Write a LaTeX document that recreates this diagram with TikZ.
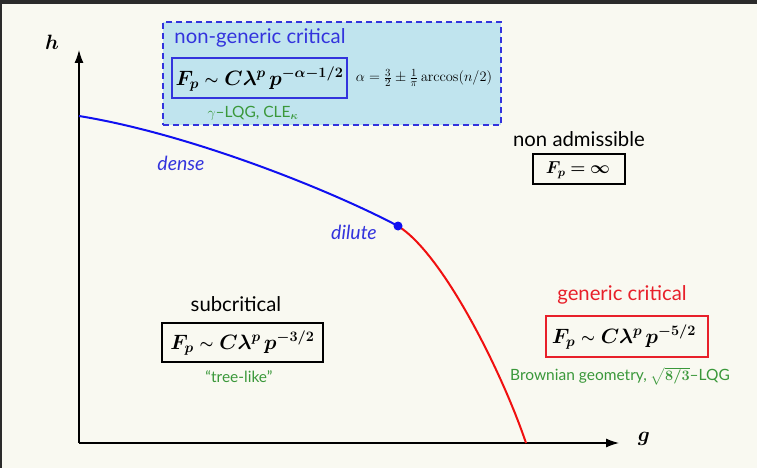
\documentclass[tikz,border=0pt]{standalone}
\usepackage{amsmath,bm,graphicx}
\usepackage[no-math]{fontspec}
\setmainfont{Lato}
\usetikzlibrary{arrows.meta}
\definecolor{bg}{HTML}{F9F9F1}
\definecolor{topbar}{HTML}{2B2B2B}
\definecolor{ngblue}{HTML}{3333DD}
\definecolor{lineblue}{HTML}{1010F0}
\definecolor{boxfill}{HTML}{C0E4EE}
\definecolor{gred}{HTML}{E8202A}
\definecolor{linered}{HTML}{F01010}
\definecolor{dgreen}{HTML}{3A983A}
\newcommand{\smsim}{\mathrel{\raisebox{0.1ex}{\scalebox{0.75}{$\bm\sim$}}}}
\tikzset{
  lbl/.style={font=\fontsize{20.3}{24}\selectfont, inner sep=0pt},
  small/.style={font=\fontsize{15.5}{18}\selectfont, inner sep=0pt},
  fbox/.style={draw, line width=1.1pt, inner sep=0pt},
  fml/.style={font=\fontsize{20.5}{25}\selectfont, inner sep=0pt},
  axis/.style={line width=1.2pt, -{Latex[length=13pt,width=9pt]}},
}
\begin{document}
\begin{tikzpicture}[x=1pt,y=-1pt]
\fill[bg] (0,0) rectangle (757,468);
\fill[topbar] (0,0) rectangle (757,4.5);
\fill[topbar] (0,0) rectangle (2,468);
\useasboundingbox (0,0) rectangle (757,468);

% non-generic region
\node[draw=ngblue, fill=boxfill, dashed, dash pattern=on 6pt off 4pt, line width=1.5pt,
      minimum width=338pt, minimum height=103pt, inner sep=0pt] (ngbox) at (332,73.5) {};
\node[lbl, text=ngblue] (nglabel) at (260,38) {non-generic critical};
\node[fbox, draw=ngblue, minimum width=175pt, minimum height=40pt] (ngf) at (259.5,78) {};
\node[fml] (ngformula) at (259.5,79) {$\bm{F_p \smsim C\lambda^p\, p^{-\alpha-1/2}}$};
\node[font=\fontsize{15.2}{19}\selectfont, inner sep=0pt] (alpha) at (424,78)
  {$\alpha = \tfrac{3}{2} \pm \tfrac{1}{\pi}\arccos(n/2)$};
\node[small, text=dgreen] (lqg) at (253,113) {$\gamma$–LQG, CLE$_{\bm{\kappa}}$};

% axes
\coordinate (O) at (79,443);
\coordinate (ytip) at (79,50);
\coordinate (xtip) at (619,443);
\draw[axis] (O) -- (ytip);
\draw[axis] (O) -- (xtip);
\node[font=\fontsize{20}{24}\selectfont, inner sep=0pt] (hlab) at (52,42) {$\bm{h}$};
\node[font=\fontsize{20}{24}\selectfont, inner sep=0pt] (glab) at (644,439) {$\bm{g}$};

% critical curve
\coordinate (cstart) at (79,116);
\coordinate (crit) at (398,226);
\coordinate (cend) at (526,443);
\draw[lineblue, line width=2pt] (cstart) .. controls (190,134) and (330,190) .. (crit);
\draw[linered, line width=2pt] (crit) .. controls (443,254) and (502,372) .. (cend);
\fill[lineblue] (crit) circle (4.5pt);

\node[lbl, text=ngblue, font=\fontsize{19.5}{23}\selectfont\itshape] (dense) at (181,163) {dense};
\node[lbl, text=ngblue, font=\fontsize{19.5}{23}\selectfont\itshape] (dilute) at (354,232) {dilute};

% non admissible
\node[lbl] (nalabel) at (579,139) {non admissible};
\node[fbox, minimum width=92pt, minimum height=30pt] (nabox) at (579,169) {};
\node[fml, font=\fontsize{18}{22}\selectfont] (naformula) at (578,170) {$\bm{F_p = \infty}$};

% subcritical
\node[lbl] (sublabel) at (236,304) {subcritical};
\node[fbox, minimum width=161pt, minimum height=39pt] (subbox) at (242.5,342.5) {};
\node[fml] (subformula) at (242.5,343) {$\bm{F_p \smsim C\lambda^p\, p^{-3/2}}$};
\node[small, text=dgreen] (tree) at (239,377) {“tree-like”};

% generic critical
\node[lbl, text=gred] (genlabel) at (622,295) {generic critical};
\node[fbox, draw=gred, minimum width=162pt, minimum height=41pt] (genbox) at (627,336.5) {};
\node[fml] (genformula) at (624,337) {$\bm{F_p \smsim C\lambda^p\, p^{-5/2}}$};
\node[small, text=dgreen] (brown) at (620,376) {Brownian geometry, $\bm{\sqrt{8/3}}$–LQG};
\end{tikzpicture}
\end{document}
